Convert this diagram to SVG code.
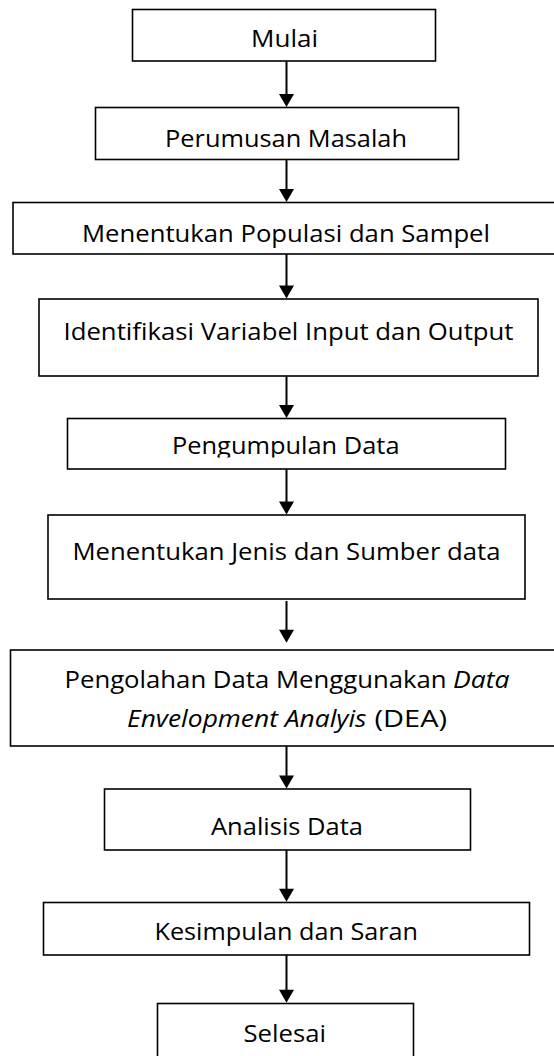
<svg xmlns="http://www.w3.org/2000/svg" width="554" height="1056" viewBox="0 0 554 1056">
<style>
.box{fill:#fff;stroke:#000;stroke-width:1.6}
.t{font-family:"Open Sans","Noto Sans",sans-serif;font-size:24.5px;fill:#000}
.i{font-style:italic}
.c{stroke:#000;stroke-width:2;fill:none}
</style>
<defs>
<marker id="ah" markerUnits="userSpaceOnUse" markerWidth="15" markerHeight="15" viewBox="0 0 13 15" refX="7" refY="7.5" orient="auto">
<path d="M0,0 L13,7.5 L0,15 Z" fill="#000"/>
</marker>
<clipPath id="clipPD"><rect x="0" y="418" width="554" height="39.5"/></clipPath>
</defs>
<rect width="554" height="1056" fill="#fff"/>
<g id="connectors">
<line class="c" x1="286.5" y1="61" x2="286.5" y2="101" marker-end="url(#ah)"/>
<line class="c" x1="286.5" y1="159.5" x2="286.5" y2="196" marker-end="url(#ah)"/>
<line class="c" x1="286.5" y1="254" x2="286.5" y2="292.5" marker-end="url(#ah)"/>
<line class="c" x1="286.5" y1="376" x2="286.5" y2="412" marker-end="url(#ah)"/>
<line class="c" x1="286.5" y1="469" x2="286.5" y2="508.5" marker-end="url(#ah)"/>
<line class="c" x1="286.5" y1="601" x2="286.5" y2="636.7" marker-end="url(#ah)"/>
<line class="c" x1="286.5" y1="746" x2="286.5" y2="782.5" marker-end="url(#ah)"/>
<line class="c" x1="286.5" y1="850" x2="286.5" y2="895.7" marker-end="url(#ah)"/>
<line class="c" x1="286.5" y1="955" x2="286.5" y2="996.7" marker-end="url(#ah)"/>
</g>
<g id="n1"><rect class="box" x="132.5" y="9.5" width="303" height="51.5"/>
<text class="t" x="251" y="47" textLength="67" lengthAdjust="spacingAndGlyphs">Mulai</text></g>
<g id="n2"><rect class="box" x="95.5" y="107.5" width="363" height="52"/>
<text class="t" x="165" y="147" textLength="242" lengthAdjust="spacingAndGlyphs">Perumusan Masalah</text></g>
<g id="n3"><rect class="box" x="13" y="202.5" width="550" height="51.5"/>
<text class="t" x="82" y="242" textLength="408" lengthAdjust="spacingAndGlyphs">Menentukan Populasi dan Sampel</text></g>
<g id="n4"><rect class="box" x="39" y="299" width="499" height="77"/>
<text class="t" x="63.5" y="339.5" textLength="450" lengthAdjust="spacingAndGlyphs">Identifikasi Variabel Input dan Output</text></g>
<g id="n5"><rect class="box" x="67.5" y="418.5" width="438" height="50.5"/>
<text class="t" x="172" y="453.5" textLength="227.5" lengthAdjust="spacingAndGlyphs" clip-path="url(#clipPD)">Pengumpulan Data</text></g>
<g id="n6"><rect class="box" x="48" y="515" width="477" height="84"/>
<text class="t" x="72.5" y="560" textLength="428" lengthAdjust="spacingAndGlyphs">Menentukan Jenis dan Sumber data</text></g>
<g id="n7"><rect class="box" x="10.5" y="650" width="552" height="96"/>
<text class="t" x="64.5" y="687.5" textLength="382" lengthAdjust="spacingAndGlyphs">Pengolahan Data Menggunakan</text>
<text class="t i" x="453" y="687.5" textLength="56.5" lengthAdjust="spacingAndGlyphs">Data</text>
<text class="t i" x="127" y="727" textLength="239.5" lengthAdjust="spacingAndGlyphs">Envelopment Analyis</text>
<text class="t" x="374.5" y="727" textLength="72.5" lengthAdjust="spacingAndGlyphs">(DEA)</text></g>
<g id="n8"><rect class="box" x="104.5" y="789" width="366" height="61"/>
<text class="t" x="211" y="835" textLength="152" lengthAdjust="spacingAndGlyphs">Analisis Data</text></g>
<g id="n9"><rect class="box" x="43.5" y="902.5" width="486" height="52.5"/>
<text class="t" x="154.5" y="940" textLength="263.5" lengthAdjust="spacingAndGlyphs">Kesimpulan dan Saran</text></g>
<g id="n10"><rect class="box" x="157.5" y="1003.5" width="256" height="70"/>
<text class="t" x="243.5" y="1042" textLength="82.5" lengthAdjust="spacingAndGlyphs">Selesai</text></g>
</svg>
